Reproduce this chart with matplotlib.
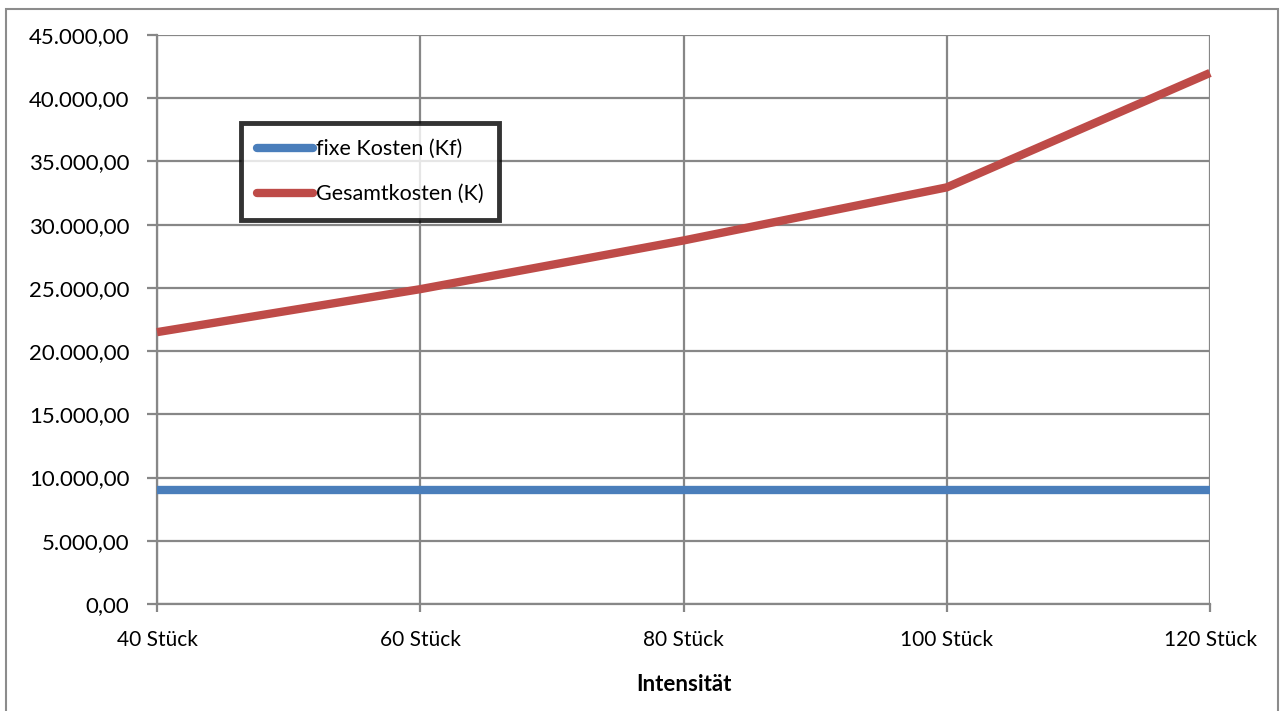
import matplotlib.pyplot as plt
from matplotlib.patches import Rectangle
from matplotlib.ticker import FuncFormatter

# Kostenverlauf je Intensität
stueck = [40, 60, 80, 100, 120]
x_labels = ['40 Stück', '60 Stück', '80 Stück', '100 Stück', '120 Stück']
fixe_kosten = [9000, 9000, 9000, 9000, 9000]
gesamtkosten = [21500, 24900, 28750, 32950, 42000]
y_ticks = list(range(0, 45001, 5000))

plt.rcParams['font.family'] = ['Lato', 'DejaVu Sans']

fig = plt.figure(figsize=(12.83, 7.11), dpi=100)
W, H = 1283, 711
ax = fig.add_axes([157 / W, 1 - 604 / H, (1210 - 157) / W, (604 - 35) / H])

# Rahmen ums Diagramm
fig.patches.append(Rectangle((6 / W, -0.05), (1278 - 6) / W, 1.05 - 9 / H,
                             transform=fig.transFigure, fill=False,
                             edgecolor='#8c8c8c', linewidth=1.5))

grau = '#878787'
ax.plot(stueck, fixe_kosten, color='#4A7EBB', linewidth=6, label='fixe Kosten (Kf)',
        solid_capstyle='butt', zorder=3, clip_on=False)
ax.plot(stueck, gesamtkosten, color='#BE4B48', linewidth=6, label='Gesamtkosten (K)',
        solid_capstyle='butt', zorder=3, clip_on=False)

ax.set_xlim(40, 120)
ax.set_ylim(0, 45000)
ax.set_xticks(stueck)
ax.set_xticklabels(x_labels)
ax.set_yticks(y_ticks)

def de_format(v, pos):
    s = f'{v:,.2f}'
    return s.replace(',', 'X').replace('.', ',').replace('X', '.')

ax.yaxis.set_major_formatter(FuncFormatter(de_format))

ax.grid(True, color=grau, linewidth=1.6)
ax.set_axisbelow(True)
for side in ['top', 'right']:
    ax.spines[side].set_visible(False)
for side in ['left', 'bottom']:
    ax.spines[side].set_color(grau)
    ax.spines[side].set_linewidth(1.6)
ax.tick_params(axis='y', length=7, width=1.6, color=grau, pad=13, labelsize=16)
ax.tick_params(axis='x', length=6, width=1.6, color=grau, pad=13, labelsize=15)

ax.set_xlabel('Intensität', fontsize=16, fontweight='bold', labelpad=17)

leg = ax.legend(loc='upper left', bbox_to_anchor=(0.08, 0.845), fontsize=15.5,
                frameon=True, fancybox=False, handlelength=2.6, handletextpad=0.1,
                labelspacing=1.15, borderpad=0.75, borderaxespad=0)
leg.get_frame().set_edgecolor('black')
leg.get_frame().set_linewidth(3.5)
for line in leg.get_lines():
    line.set_solid_capstyle('round')
    line.set_linewidth(6)

fig.savefig('out.png', dpi=100)
